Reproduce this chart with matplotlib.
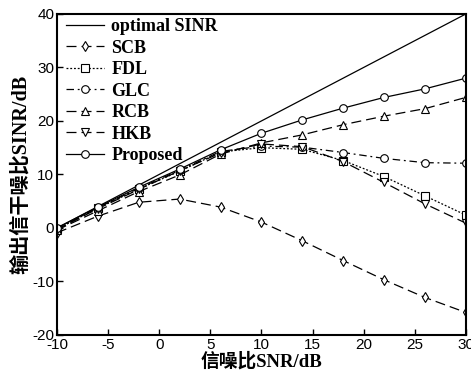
import matplotlib
matplotlib.use("Agg")
import matplotlib.pyplot as plt

plt.rcParams['axes.unicode_minus'] = False

snr = [-10, -6, -2, 2, 6, 10, 14, 18, 22, 26, 30]
optimal = [0, 4, 8, 12, 16, 20, 24, 28, 32, 36, 40]
scb = [-0.9, 2.2, 4.8, 5.4, 3.9, 1.1, -2.4, -6.1, -9.7, -13.0, -15.8]
fdl = [-0.2, 3.7, 7.3, 10.6, 14.2, 15.0, 14.7, 12.6, 9.6, 6.0, 2.4]
glc = [-0.2, 3.8, 7.4, 10.8, 14.3, 15.3, 15.1, 14.1, 13.0, 12.2, 12.1]
rcb = [-0.4, 3.2, 6.8, 9.9, 13.8, 15.9, 17.4, 19.3, 20.9, 22.3, 24.4]
hkb = [-0.3, 3.6, 7.2, 10.7, 14.0, 15.7, 15.2, 12.4, 8.5, 4.5, 0.9]
proposed = [0.0, 3.9, 7.6, 11.0, 14.6, 17.7, 20.2, 22.4, 24.4, 26.0, 28.0]

xticks = [-10, -5, 0, 5, 10, 15, 20, 25, 30]
yticks = [-20, -10, 0, 10, 20, 30, 40]

fam = ['Liberation Serif', 'Noto Sans CJK SC']

fig = plt.figure(figsize=(4.71, 3.78), dpi=100)
ax = fig.add_axes([0.121, 0.114, 0.868, 0.849])

lw = 0.9
mk = dict(markerfacecolor='white', markeredgecolor='black', markersize=5.5, markeredgewidth=0.8)
ax.plot(snr, optimal, '-', color='black', lw=lw, label='optimal SINR')
ax.plot(snr, scb, color='black', lw=lw, ls=(0, (8, 4)), marker='d', label='SCB', **mk)
ax.plot(snr, fdl, color='black', lw=lw, ls=(0, (1.5, 1.5)), marker='s', label='FDL', **mk)
ax.plot(snr, glc, color='black', lw=lw, ls=(0, (6, 3, 1.5, 3)), marker='o', label='GLC', **mk)
ax.plot(snr, rcb, color='black', lw=lw, ls=(0, (8, 4)), marker='^', label='RCB', **mk)
ax.plot(snr, hkb, color='black', lw=lw, ls=(0, (8, 4)), marker='v', label='HKB', **mk)
ax.plot(snr, proposed, '-', color='black', lw=lw, marker='o', label='Proposed', **mk)

ax.set_xlim(-10, 30)
ax.set_ylim(-20, 40)
ax.set_xticks(xticks)
ax.set_yticks(yticks)
ax.tick_params(direction='in', length=4, width=1, labelsize=11, pad=2)
for lab in ax.get_xticklabels() + ax.get_yticklabels():
    lab.set_fontfamily('Liberation Sans')
for s in ax.spines.values():
    s.set_linewidth(1.5)

ax.set_xlabel('信噪比SNR/dB', family=fam, fontweight='bold', fontsize=13.5, labelpad=0)
ax.set_ylabel('输出信干噪比SINR/dB', family=fam, fontweight='bold', fontsize=14.5, labelpad=1)

leg = ax.legend(loc='upper left', bbox_to_anchor=(0.0, 1.015), frameon=False,
                handlelength=2.1, labelspacing=0.25,
                borderaxespad=0.1, handletextpad=0.4,
                prop={'family': fam, 'weight': 'bold', 'size': 13})

fig.savefig('out.png', dpi=100)
